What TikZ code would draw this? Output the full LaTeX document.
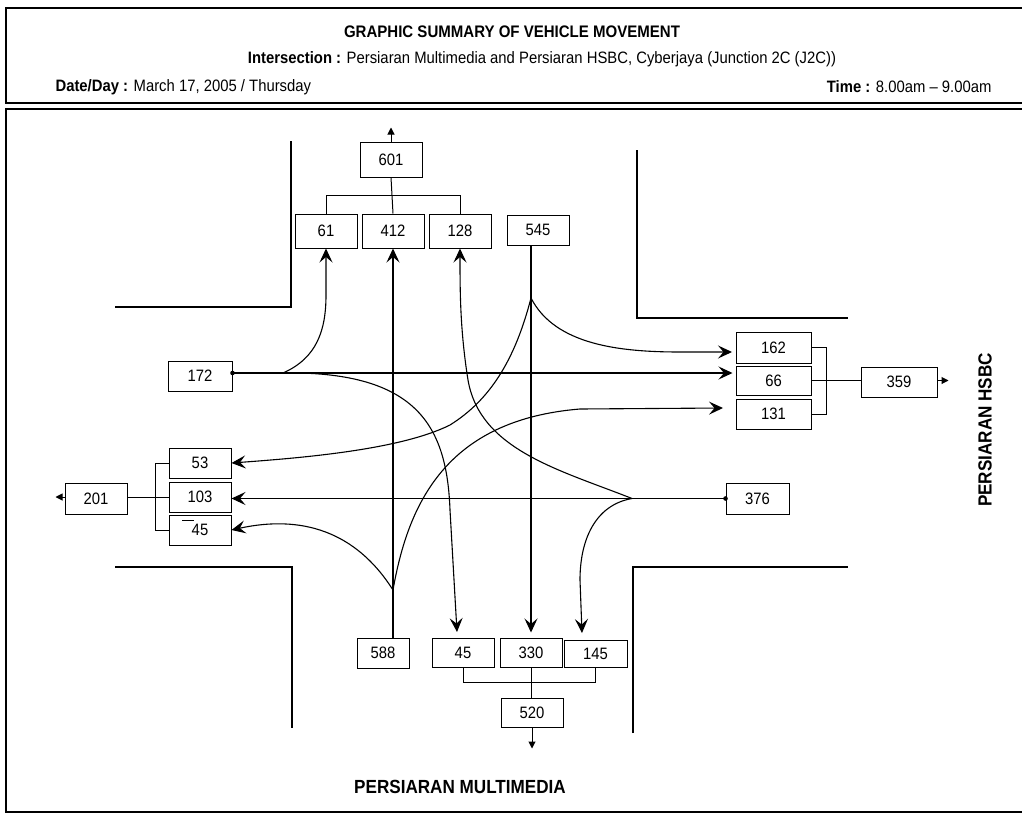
\documentclass[tikz,border=0pt]{standalone}
\usepackage{fontspec}
\setmainfont{Liberation Sans}[FakeStretch=0.9]
\usetikzlibrary{arrows.meta}
\begin{document}
\begin{tikzpicture}[x=1pt,y=-1pt,
  numbox/.style={draw,line width=1pt,minimum width=62pt,minimum height=30pt,inner sep=0pt,font=\fontsize{16.5}{16.5}\selectfont},
  road/.style={line width=2.6pt},
  flow/.style={line width=1.1pt},
  bigarr/.style={-{Stealth[length=14pt,width=13pt,inset=5.5pt]}},
  outarr/.style={line width=1pt,-{Triangle[length=7pt,width=7pt]}},
  bracket/.style={line width=1pt},
  frame/.style={line width=1.2pt},
  hdr/.style={font=\fontsize{16.5}{16.5}\selectfont}]
\useasboundingbox (0,0) rectangle (1022,816);

% frames
\draw[frame] (1022,8) -- (6,8) -- (6,103) -- (1022,103);
\draw[frame] (1022,109) -- (6,109) -- (6,812) -- (1022,812);

% header
\node[font=\bfseries\fontsize{16.7}{16.7}\selectfont] (title) at (512,32) {GRAPHIC SUMMARY OF VEHICLE MOVEMENT};
\node[hdr] (isect) at (542,59) {\textbf{Intersection :} Persiaran Multimedia and Persiaran HSBC, Cyberjaya (Junction 2C (J2C))};
\node[hdr,anchor=west] (date) at (52,87) {\textbf{Date/Day :} March 17, 2005 / Thursday};
\node[hdr,anchor=east] (time) at (995,87) {\textbf{Time :} 8.00am -- 9.00am};

% roads
\draw[road] (115,307) -- (291,307) -- (291,141);
\draw[road] (637,150) -- (637,318) -- (848,318);
\draw[road] (115,567) -- (292,567) -- (292,728);
\draw[road] (633,733) -- (633,567) -- (848,567);

% boxes
\node[numbox,minimum height=35pt] (n601) at (391,159.5) {601};
\node[numbox,minimum height=34pt] (n61) at (326,231) {61};
\node[numbox,minimum height=34pt] (n412) at (393,231) {412};
\node[numbox,minimum height=34pt] (n128) at (460,231) {128};
\node[numbox] (n545) at (538,230) {545};

\node[numbox,minimum width=75pt,minimum height=31pt] (n162) at (773.5,347.5) {162};
\node[numbox,minimum width=75pt,minimum height=29pt] (n66) at (773.5,380.5) {66};
\node[numbox,minimum width=75pt] (n131) at (773.5,414) {131};
\node[numbox,minimum width=76pt] (n359) at (899,382) {359};
\node[numbox,minimum width=63pt,minimum height=31pt] (n376) at (757.5,498.5) {376};

\node[numbox,minimum width=64pt] (n172) at (200,376) {172};
\node[numbox] (n53) at (200,463) {53};
\node[numbox] (n103) at (200,497) {103};
\node[numbox] (n45w) at (200,530) {\raisebox{-2pt}{45}};
\node[numbox,minimum height=31pt] (n201) at (96,498.5) {201};

\node[numbox,minimum width=52pt] (n588) at (383,653) {588};
\node[numbox,minimum height=29pt] (n45s) at (463,652.5) {45};
\node[numbox,minimum height=29pt] (n330) at (531,652.5) {330};
\node[numbox,minimum width=63pt,minimum height=27pt] (n145) at (595.5,653.5) {145};
\node[numbox,minimum height=29pt] (n520) at (532,712.5) {520};

\draw[line width=1pt] (182,520) -- (194,520);

% named points
\coordinate (d172) at ([yshift=3pt]n172.east);
\coordinate (s172) at (283,373);
\coordinate (b172) at (300,373);
\coordinate (c545) at (531,298);
\coordinate (c376) at (632,498.5);
\coordinate (c588) at (393,590);
\coordinate (t45s) at (457,632);
\coordinate (t162) at (732,352);
\coordinate (t145) at (582,633);
\coordinate (t131) at (723,408);

% west approach
\draw[flow,bigarr,shorten >=3pt] (d172) -- (n66.west |- d172);
\fill (d172) circle (2.3pt);
\draw[flow,bigarr] (s172) .. controls (317,358) and (326,330) .. (326,295) -- (n61.south);
\draw[flow,bigarr] (b172) .. controls (420,376) and (447,430) .. (450,510) -- (t45s);

% north approach
\draw[flow,bigarr,shorten >=5pt] (n545.south -| c545) -- (c545) -- (n330.north -| c545);
\draw[flow,bigarr] (c545) .. controls (555,345) and (620,352) .. (680,352) -- (t162);
\draw[flow,bigarr] (c545) .. controls (515,360) and (490,400) .. (450,425) .. controls (400,450) and (300,458) .. (n53.east);

% east approach
\draw[flow,bigarr] (n376.west) -- (n103.east |- n376.west);
\fill (n376.west) circle (2.3pt);
\draw[flow,bigarr] (c376) .. controls (560,470) and (480,450) .. (468,380) .. controls (460,330) and (460,290) .. (n128.south);
\draw[flow,bigarr] (c376) .. controls (595,505) and (580,540) .. (580,580) -- (t145);

% south approach
\draw[flow,bigarr] (n588.north -| c588) -- (c588) -- (n412.south);
\draw[flow,bigarr] (c588) .. controls (355,530) and (300,515) .. (n45w.east);
\draw[flow,bigarr] (c588) .. controls (408,505) and (445,420) .. (580,409) -- (t131);

% brackets and totals
\draw[bracket] (n61.north) -- ++(0,-18) -| (n128.north);
\draw[bracket] (n412.north) -- (n601.south);
\draw[outarr] (n601.north) -- ++(0,-14);
\draw[bracket] (n162.east) -- ++(15,0) |- (n131.east);
\draw[bracket] (n66.east) -- (n359.west |- n66.east);
\draw[outarr] (n359.east |- n66.east) -- ++(11,0);
\draw[bracket] (n53.west) -- ++(-13,0) |- (n45w.west);
\draw[bracket] (n103.west) -- (n201.east |- n103.west);
\draw[outarr] (n201.west |- n103.west) -- ++(-9,0);
\draw[bracket] (n45s.south) -- ++(0,15) -| (n145.south);
\draw[bracket] (n330.south) -- (n520.north -| n330.south);
\draw[outarr] (n520.south) -- ++(0,21);

% road names
\node[font=\bfseries\fontsize{19}{19}\selectfont] (mm) at (460,787) {PERSIARAN MULTIMEDIA};
\node[rotate=90,font=\bfseries\fontsize{19}{19}\selectfont] (hsbc) at (985,430) {PERSIARAN HSBC};
\end{tikzpicture}
\end{document}
